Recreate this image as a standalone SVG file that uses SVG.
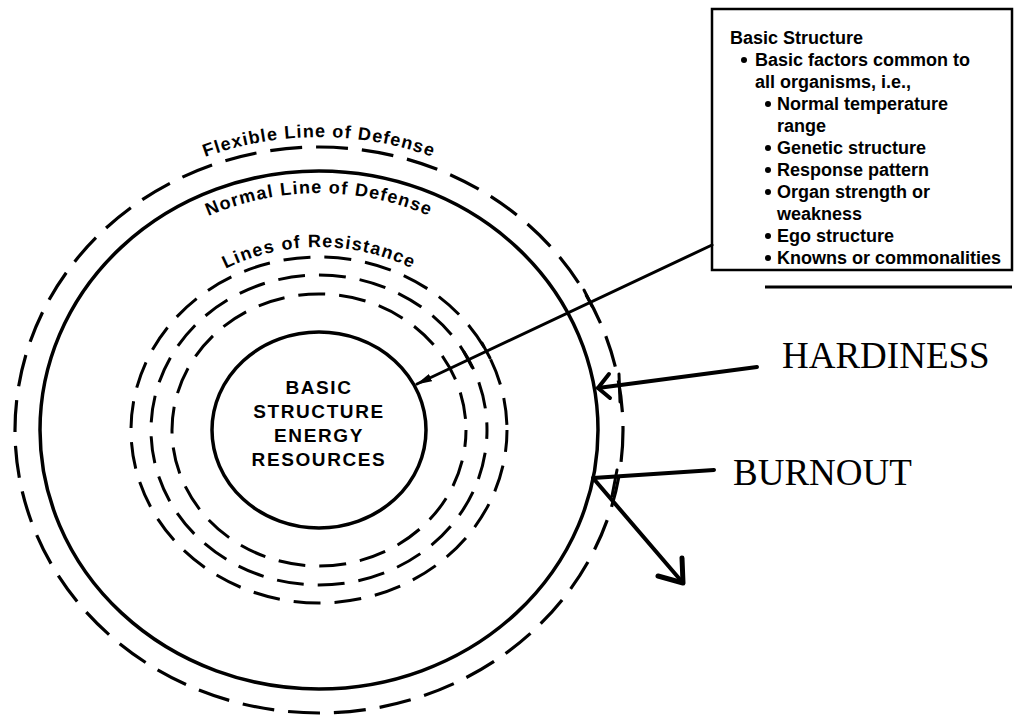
<svg xmlns="http://www.w3.org/2000/svg" width="1016" height="716" viewBox="0 0 1016 716">
  <style>
    .ring { fill: none; stroke: #000; }
    .solid { stroke-width: 3.5; }
    .flex { stroke-width: 3.2; stroke-dasharray: 32 14; }
    .res { stroke-width: 3; stroke-dasharray: 27 14; }
    .lbl { font-family: "Liberation Sans", Arial, sans-serif; font-weight: bold; font-size: 18px; fill: #000; }
    .core { font-family: "Liberation Sans", Arial, sans-serif; font-weight: bold; font-size: 19px; letter-spacing: 1.6px; fill: #000; text-anchor: middle; }
    .box { font-family: "Liberation Sans", Arial, sans-serif; font-weight: bold; font-size: 18px; fill: #000; }
    .big { font-family: "Liberation Serif", "Times New Roman", serif; font-size: 37px; fill: #000; }
    .conn { fill: none; stroke: #000; stroke-linecap: round; stroke-linejoin: round; }
    .tick { stroke: #000; stroke-width: 3; stroke-linecap: round; }
  </style>
  <defs>
    <marker id="fillArrow" markerUnits="userSpaceOnUse" viewBox="0 0 16 8" refX="15" refY="4" markerWidth="16" markerHeight="8" orient="auto">
      <path d="M0,0 L16,4 L0,8 Z" fill="#000"/>
    </marker>
    <path id="pFlex" d="M5,430 A314,293 0 0 1 633,430"/>
    <path id="pNorm" d="M62,430 A257,237 0 0 1 576,430"/>
    <path id="pRes" d="M122,430 A197,183 0 0 1 516,430"/>
  </defs>
  <rect width="1016" height="716" fill="#fff"/>

  <g id="flexible-line">
    <ellipse class="ring flex" cx="319" cy="430" rx="304" ry="283"/>
    <text class="lbl" letter-spacing="1.1"><textPath href="#pFlex" startOffset="50%" text-anchor="middle">Flexible Line of Defense</textPath></text>
  </g>

  <g id="normal-line">
    <ellipse class="ring solid" cx="319" cy="430" rx="279" ry="259"/>
    <text class="lbl" letter-spacing="1.2"><textPath href="#pNorm" startOffset="50%" text-anchor="middle">Normal Line of Defense</textPath></text>
  </g>

  <g id="lines-of-resistance">
    <ellipse class="ring res" cx="319" cy="430" rx="188" ry="173" stroke-dashoffset="5"/>
    <ellipse class="ring res" cx="319" cy="430" rx="168" ry="155" stroke-dashoffset="18"/>
    <ellipse class="ring res" cx="319" cy="430" rx="147" ry="136" stroke-dashoffset="10"/>
    <text class="lbl" letter-spacing="1.3"><textPath href="#pRes" startOffset="50%" text-anchor="middle">Lines of Resistance</textPath></text>
  </g>

  <g id="core">
    <ellipse class="ring solid" cx="319" cy="430" rx="107" ry="98"/>
    <text class="core" x="319" y="394">BASIC</text>
    <text class="core" x="319" y="418">STRUCTURE</text>
    <text class="core" x="319" y="442">ENERGY</text>
    <text class="core" x="319" y="466">RESOURCES</text>
  </g>

  <g id="basic-structure-box">
    <rect x="712" y="9" width="300" height="261" fill="#fff" stroke="#000" stroke-width="2.5"/>
    <line x1="765" y1="287" x2="1012" y2="287" stroke="#000" stroke-width="3"/>
    <text class="box" x="730" y="44">Basic Structure</text>
    <circle cx="744" cy="60" r="3"/>
    <text class="box" x="755" y="66">Basic factors common to</text>
    <text class="box" x="755" y="88">all organisms, i.e.,</text>
    <circle cx="768" cy="104" r="3"/>
    <text class="box" x="777" y="110">Normal temperature</text>
    <text class="box" x="777" y="132">range</text>
    <circle cx="768" cy="148" r="3"/>
    <text class="box" x="777" y="154">Genetic structure</text>
    <circle cx="768" cy="170" r="3"/>
    <text class="box" x="777" y="176">Response pattern</text>
    <circle cx="768" cy="192" r="3"/>
    <text class="box" x="777" y="198">Organ strength or</text>
    <text class="box" x="777" y="220">weakness</text>
    <circle cx="768" cy="236" r="3"/>
    <text class="box" x="777" y="242">Ego structure</text>
    <circle cx="768" cy="258" r="3"/>
    <text class="box" x="777" y="264">Knowns or commonalities</text>
  </g>

  <g id="hardiness">
    <text class="big" x="782" y="368">HARDINESS</text>
  </g>
  <g id="burnout">
    <text class="big" x="733" y="485">BURNOUT</text>
  </g>

  <g id="connectors">
    <line class="conn" x1="712" y1="245" x2="417" y2="384" stroke-width="3" marker-end="url(#fillArrow)"/>
    <line class="tick" x1="584" y1="290" x2="592" y2="306"/>
    <line class="tick" x1="482" y1="343" x2="490" y2="358"/>
    <line class="tick" x1="464" y1="352" x2="472" y2="367"/>
    <path class="conn" d="M757,367 L598,388" stroke-width="4"/>
    <path class="conn" d="M609,374 L598,388 L610,398" stroke-width="4"/>
    <line class="tick" x1="619" y1="374" x2="620" y2="402"/>
    <path class="conn" d="M714,470 L593,478 L683,583" stroke-width="4"/>
    <path class="conn" d="M658,576 L683,583 L682,558" stroke-width="5"/>
    <line class="tick" x1="617" y1="470" x2="612" y2="496"/>
  </g>
</svg>
